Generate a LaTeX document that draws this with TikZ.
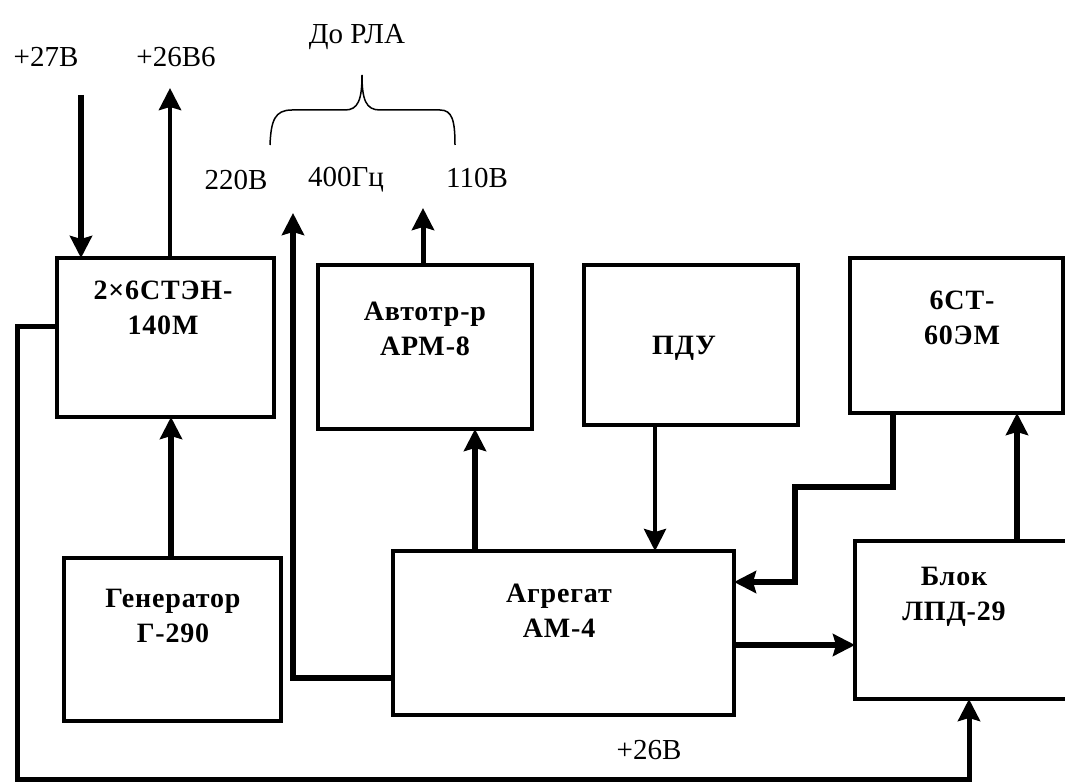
\documentclass[tikz,border=0pt]{standalone}
\usepackage{fontspec}
\setmainfont{Liberation Serif}
\usetikzlibrary{arrows.meta}
\tikzset{
  box/.style={draw,line width=4pt,rectangle,inner sep=0pt,outer sep=0pt},
  boxtext/.style={align=center,font=\bfseries\fontsize{28}{35}\selectfont\addfontfeature{LetterSpace=3},inner sep=0pt},
  lbl/.style={font=\fontsize{29}{32}\selectfont,inner sep=0pt},
  arr/.style={-{Stealth[length=22pt,width=22pt,inset=3pt]}},
  thk/.style={line width=6pt},
  med/.style={line width=4.5pt},
  thn/.style={line width=4pt},
  wire/.style={line width=5pt},
}
\begin{document}
\begin{tikzpicture}[x=1pt,y=-1pt]
\useasboundingbox (0,0) rectangle (1065,783);
% boxes
\node[box,minimum width=217pt,minimum height=159pt] (sten) at (165.5,337.5) {};
\node[box,minimum width=217pt,minimum height=163pt] (gen) at (172.5,639.5) {};
\node[box,minimum width=214pt,minimum height=164pt] (arm) at (425,347) {};
\node[box,minimum width=214pt,minimum height=160pt] (pdu) at (691,345) {};
\node[box,minimum width=213pt,minimum height=155pt] (st6) at (956.5,335.5) {};
\node[box,minimum width=341pt,minimum height=164pt] (agg) at (563.5,633) {};
\node[box,minimum width=216pt,minimum height=158pt] (blok) at (963,620) {};
% box texts
\node[boxtext] (tsten) at (163,308) {2×6СТЭН-\\140М};
\node[boxtext] (tgen) at (173,616) {Генератор\\Г-290};
\node[boxtext] (tarm) at (425,329) {Автотр-р\\АРМ-8};
\node[boxtext] (tpdu) at (684,348) {ПДУ};
\node[boxtext] (tst6) at (962,318) {6СТ-\\60ЭМ};
\node[boxtext] (tagg) at (559,611) {Агрегат\\АМ-4};
\node[boxtext] (tblok) at (954,597) {Блок\\ЛПД-29};
% labels
\node[lbl] (l27) at (46,57) {+27В};
\node[lbl] (l26b6) at (176,57) {+26В6};
\node[lbl] (lrla) at (357,37) {До РЛА};
\node[lbl] (l220) at (236,180) {220В};
\node[lbl] (l400) at (346,180) {400Гц};
\node[lbl] (l110) at (477,178) {110В};
\node[lbl] (l26) at (649,750) {+26В};
% brace
\draw[line width=1.5pt] (270,145) .. controls (271,120) and (275,110) .. (292,110) -- (345,110)
  .. controls (358,110) and (362,100) .. (362,75)
  .. controls (362,100) and (366,110) .. (380,110) -- (440,110)
  .. controls (452,110) and (455,120) .. (455,145);
% coordinates
\coordinate (in27) at (81,95);
\coordinate (out26) at (170,88);
\coordinate (ga) at (171,0);
\coordinate (a4) at (293,678);
\coordinate (t400) at (293,213);
\coordinate (aa) at (475,0);
\coordinate (t110) at (423,208);
\coordinate (pa) at (655,0);
\coordinate (e1) at (893,487);
\coordinate (e2) at (795,582);
\coordinate (ab) at (734,645);
\coordinate (bs) at (1017,0);
\coordinate (lp1) at (17,327);
\coordinate (lp2) at (17,779);
\coordinate (lp3) at (969,779);
% connectors
\draw[thk,arr] (in27) -- (in27 |- sten.north);
\draw[med,arr] (out26 |- sten.north) -- (out26);
\draw[thk,arr] (ga |- gen.north) -- (ga |- sten.south);
\draw[thk,arr] (a4 -| agg.west) -- (a4) -- (t400);
\draw[thk,arr] (aa |- agg.north) -- (aa |- arm.south);
\draw[wire,arr] (t110 |- arm.north) -- (t110);
\draw[thn,arr] (pa |- pdu.south) -- (pa |- agg.north);
\draw[thk,arr] (e1 |- st6.south) -- (e1) -| (e2) -- (e2 -| agg.east);
\draw[thk,arr] (ab -| agg.east) -- (ab -| blok.west);
\draw[thk,arr] (bs |- blok.north) -- (bs |- st6.south);
\draw[wire,arr] (lp1 -| sten.west) -- (lp1) -- (lp2) -- (lp3) -- (lp3 |- blok.south);
\end{tikzpicture}
\end{document}
